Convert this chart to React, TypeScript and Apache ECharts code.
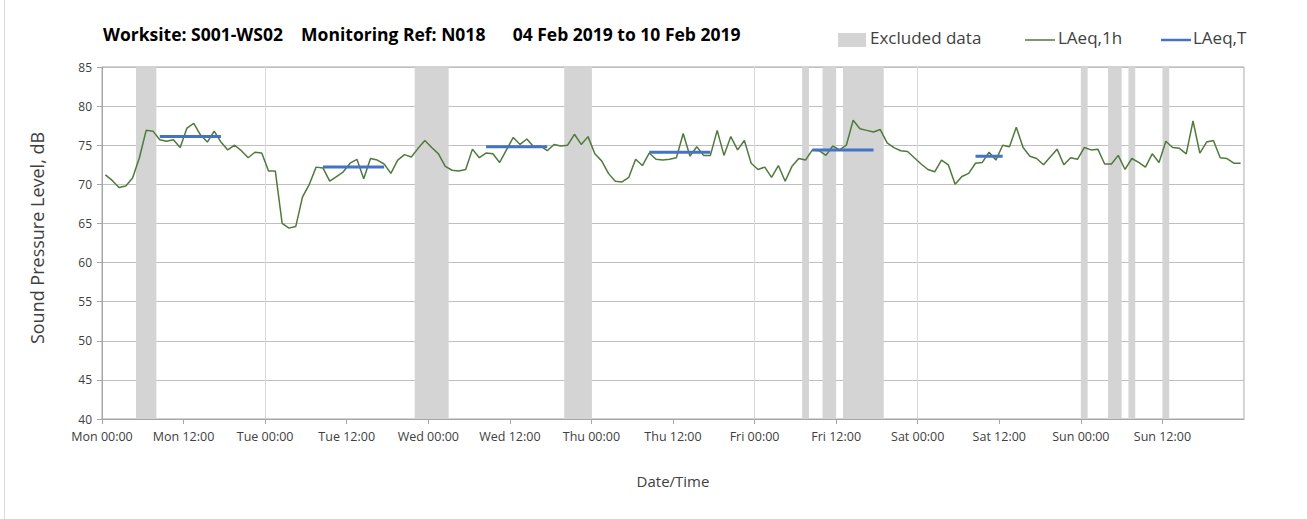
import React, { useEffect, useRef } from "react";
import * as echarts from "echarts";

const dayNames = ["Mon", "Tue", "Wed", "Thu", "Fri", "Sat", "Sun", "Mon"];

// Hourly LAeq,1h values (dB), Mon 00:00 .. Sun 23:00, plotted at mid-hour
const laeq1h = [
  71.2, 70.5, 69.6, 69.8, 70.8, 73.4, 76.9, 76.8, 75.7, 75.5, 75.7, 74.7,
  77.2, 77.8, 76.3, 75.4, 76.8, 75.4, 74.4, 75.0, 74.3, 73.4, 74.1, 74.0,
  71.7, 71.7, 65.0, 64.4, 64.6, 68.4, 70.0, 72.2, 72.1, 70.4, 71.0, 71.6,
  72.7, 73.2, 70.7, 73.3, 73.1, 72.6, 71.4, 73.1, 73.8, 73.5, 74.6, 75.6,
  74.7, 73.9, 72.3, 71.8, 71.7, 71.9, 74.5, 73.4, 74.0, 73.9, 72.8, 74.4,
  76.0, 75.1, 75.8, 74.8, 74.9, 74.3, 75.1, 74.9, 75.0, 76.4, 75.1, 76.1,
  73.9, 73.0, 71.4, 70.4, 70.3, 70.9, 73.2, 72.4, 74.0, 73.2, 73.1, 73.2,
  73.4, 76.5, 73.6, 74.8, 73.7, 73.7, 76.9, 73.7, 76.1, 74.4, 75.6, 72.7,
  71.9, 72.2, 70.9, 72.4, 70.4, 72.3, 73.3, 73.1, 74.4, 74.3, 73.7, 74.9,
  74.4, 75.0, 78.2, 77.1, 76.9, 76.7, 77.0, 75.3, 74.7, 74.3, 74.2, 73.4,
  72.6, 71.9, 71.6, 73.1, 72.5, 70.0, 71.0, 71.4, 72.7, 72.8, 74.1, 73.1,
  75.0, 74.8, 77.3, 74.7, 73.6, 73.3, 72.5, 73.5, 74.5, 72.5, 73.4, 73.2,
  74.7, 74.4, 74.5, 72.6, 72.6, 73.7, 71.9, 73.3, 72.8, 72.2, 73.9, 72.8,
  75.5, 74.7, 74.6, 73.9, 78.1, 74.0, 75.4, 75.6, 73.4, 73.3, 72.7, 72.7,
];

// LAeq,T daytime periods (hours from Mon 00:00, mid-hour of first & last hour)
const periodStart = [8.5, 32.5, 56.5, 80.5, 104.5, 128.5];
const periodEnd = [17.5, 41.5, 65.5, 89.5, 113.5, 132.5];
const periodLevel = [76.1, 72.2, 74.8, 74.1, 74.4, 73.6];

// Excluded data windows (hours from Mon 00:00)
const excludedStart = [5, 46, 68, 103, 106, 109, 144, 148, 151, 156];
const excludedEnd = [8, 51, 72, 104, 108, 115, 145, 150, 152, 157];

const yTicks = [40, 45, 50, 55, 60, 65, 70, 75, 80, 85];

const FONT = "'Open Sans', Lato, sans-serif";

export default function App() {
  const ref = useRef<HTMLDivElement>(null);

  useEffect(() => {
    document.body.style.margin = "0";
    const chart = echarts.init(ref.current!, null, { renderer: "svg" });

    const lineData = laeq1h.map((v, i) => [i + 0.5, v]);
    const periodSeries = periodStart.map((s, k) => ({
      name: "LAeq,T",
      type: "line",
      z: 4,
      symbol: "none",
      lineStyle: { color: "#4472c4", width: 3 },
      data: [
        [s, periodLevel[k]],
        [periodEnd[k], periodLevel[k]],
      ],
    }));

    chart.setOption({
      animation: false,
      textStyle: { fontFamily: FONT },
      grid: {
        left: 102,
        right: 63,
        top: 67,
        bottom: 100,
        show: true,
        borderColor: "#a6a6a6",
        borderWidth: 1,
      },
      xAxis: [
        {
          type: "value",
          min: 0,
          max: 168,
          interval: 12,
          name: "Date/Time",
          nameLocation: "middle",
          nameGap: 54,
          nameTextStyle: { fontSize: 15, color: "#404040", fontFamily: FONT },
          axisLine: { show: true, lineStyle: { color: "#a6a6a6" } },
          axisTick: { show: true, length: 5, lineStyle: { color: "#a6a6a6" } },
          axisLabel: {
            color: "#404040",
            fontSize: 12.5,
            margin: 11,
            showMaxLabel: false,
            formatter: (v: number) => {
              const d = Math.floor(v / 24);
              const h = v % 24;
              return dayNames[d] + " " + (h === 0 ? "00:00" : "12:00");
            },
          },
          splitLine: { show: false },
        },
        {
          type: "value",
          min: 0,
          max: 168,
          interval: 24,
          position: "top",
          axisLine: { show: false },
          axisTick: { show: false },
          axisLabel: { show: false },
          splitLine: { show: true, lineStyle: { color: "#d9d9d9", width: 1 } },
        },
      ],
      yAxis: {
        type: "value",
        min: yTicks[0],
        max: yTicks[yTicks.length - 1],
        interval: 5,
        axisLine: { show: true, lineStyle: { color: "#a6a6a6" } },
        axisTick: { show: true, length: 5, lineStyle: { color: "#a6a6a6" } },
        axisLabel: { color: "#404040", fontSize: 12, margin: 10 },
        splitLine: { show: true, lineStyle: { color: "#bfbfbf", width: 1 } },
      },
      series: [
        {
          name: "Excluded data",
          type: "line",
          z: 1,
          data: [],
          markArea: {
            silent: true,
            itemStyle: { color: "#d4d4d4" },
            data: excludedStart.map((s, k) => [
              { xAxis: s, yAxis: yTicks[0] },
              { xAxis: excludedEnd[k], yAxis: yTicks[yTicks.length - 1] },
            ]),
          },
        },
        {
          name: "LAeq,1h",
          type: "line",
          z: 3,
          symbol: "none",
          lineStyle: { color: "#4f7a3b", width: 1.5 },
          data: lineData,
        },
        ...periodSeries,
      ],
      graphic: [
        {
          type: "line",
          shape: { x1: 4.5, y1: 0, x2: 4.5, y2: 519 },
          style: { stroke: "#d9d9d9", lineWidth: 1 },
        },
        {
          type: "text",
          x: 37,
          y: 238,
          rotation: Math.PI / 2,
          style: {
            text: "Sound Pressure Level, dB",
            font: "18px " + FONT,
            fill: "#404040",
            align: "center",
            verticalAlign: "middle",
          },
        },
        {
          type: "text",
          x: 103,
          y: 25,
          style: {
            text: "Worksite: S001-WS02    Monitoring Ref: N018      04 Feb 2019 to 10 Feb 2019",
            font: "bold 17.5px " + FONT,
            fill: "#000000",
          },
        },
        {
          type: "rect",
          shape: { x: 838, y: 33, width: 28, height: 14 },
          style: { fill: "#d4d4d4" },
        },
        {
          type: "text",
          x: 870,
          y: 29,
          style: { text: "Excluded data", font: "17px " + FONT, fill: "#404040" },
        },
        {
          type: "line",
          shape: { x1: 1025, y1: 40, x2: 1055, y2: 40 },
          style: { stroke: "#4f7a3b", lineWidth: 1.5 },
        },
        {
          type: "text",
          x: 1058,
          y: 29,
          style: { text: "LAeq,1h", font: "17px " + FONT, fill: "#404040" },
        },
        {
          type: "line",
          shape: { x1: 1161, y1: 40, x2: 1191, y2: 40 },
          style: { stroke: "#4472c4", lineWidth: 2.5 },
        },
        {
          type: "text",
          x: 1193,
          y: 29,
          style: { text: "LAeq,T", font: "17px " + FONT, fill: "#404040" },
        },
      ],
    });

    return () => chart.dispose();
  }, []);

  return (
    <div
      ref={ref}
      style={{ position: "absolute", left: 0, top: 0, width: 1307, height: 519 }}
    />
  );
}
